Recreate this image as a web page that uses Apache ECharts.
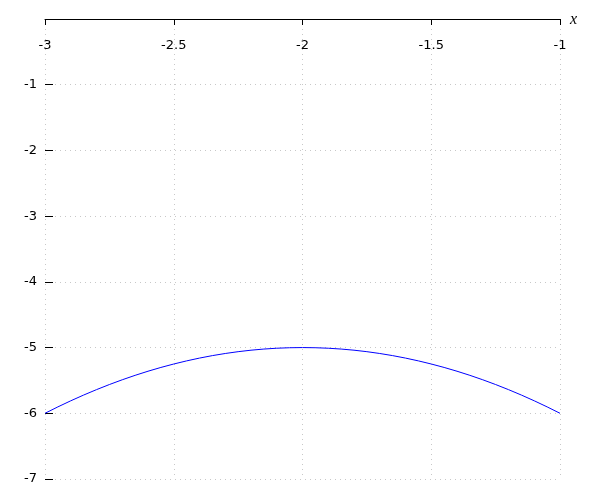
<!DOCTYPE html>
<html>
<head>
<meta charset="utf-8">
<script src="https://cdn.jsdelivr.net/npm/echarts@6/dist/echarts.min.js"></script>
<style>html,body{margin:0;padding:0;background:#fff}#c{width:600px;height:500px}</style>
</head>
<body>
<div id="c"></div>
<script>
const xValues = [-3.00,-2.95,-2.90,-2.85,-2.80,-2.75,-2.70,-2.65,-2.60,-2.55,-2.50,-2.45,-2.40,-2.35,-2.30,-2.25,-2.20,-2.15,-2.10,-2.05,-2.00,
  -1.95,-1.90,-1.85,-1.80,-1.75,-1.70,-1.65,-1.60,-1.55,-1.50,-1.45,-1.40,-1.35,-1.30,-1.25,-1.20,-1.15,-1.10,-1.05,-1.00];
const yValues = [-6.0000,-5.9025,-5.8100,-5.7225,-5.6400,-5.5625,-5.4900,-5.4225,-5.3600,-5.3025,-5.2500,-5.2025,-5.1600,-5.1225,-5.0900,-5.0625,-5.0400,-5.0225,-5.0100,-5.0025,-5.0000,
  -5.0025,-5.0100,-5.0225,-5.0400,-5.0625,-5.0900,-5.1225,-5.1600,-5.2025,-5.2500,-5.3025,-5.3600,-5.4225,-5.4900,-5.5625,-5.6400,-5.7225,-5.8100,-5.9025,-6.0000];
const xTicks = [-3, -2.5, -2, -1.5, -1];
const yTicks = [-7, -6, -5, -4, -3, -2, -1, 0];

const chart = echarts.init(document.getElementById('c'), null, {renderer: 'canvas'});
const font = 'DejaVu Sans';
chart.setOption({
  animation: false,
  grid: {left: 45, right: 40, top: 19, bottom: 21, containLabel: false},
  xAxis: {
    type: 'value', position: 'top', min: xTicks[0], max: xTicks[xTicks.length-1], interval: 0.5,
    name: 'x', nameLocation: 'end', nameGap: 10,
    nameTextStyle: {fontStyle: 'italic', fontFamily: 'Liberation Serif', fontSize: 16, color: '#000', verticalAlign: 'top', padding: [-7, 0, 0, 0]},
    axisLine: {show: true, lineStyle: {color: '#000', width: 1}},
    axisTick: {show: true, inside: true, length: 6, lineStyle: {color: '#000'}},
    axisLabel: {inside: true, margin: 20, color: '#000', fontFamily: font, fontSize: 13, verticalAlign: 'top'},
    splitLine: {show: true, lineStyle: {color: '#c8c8c8', type: [1, 4], width: 1}}
  },
  yAxis: {
    type: 'value', min: yTicks[0], max: yTicks[yTicks.length-1], interval: 1,
    axisLine: {show: false},
    axisTick: {show: true, inside: true, length: 8, lineStyle: {color: '#000'}},
    axisLabel: {margin: 8, color: '#000', fontFamily: font, fontSize: 13,
      formatter: v => v === 0 ? '' : String(v)},
    splitLine: {show: true, lineStyle: {color: '#c8c8c8', type: [1, 4], width: 1}}
  },
  series: [{
    type: 'line', data: xValues.map((x, i) => [x, yValues[i]]),
    showSymbol: false, symbol: 'none', smooth: false,
    lineStyle: {color: '#0000ff', width: 1}
  }]
});
</script>
</body>
</html>
